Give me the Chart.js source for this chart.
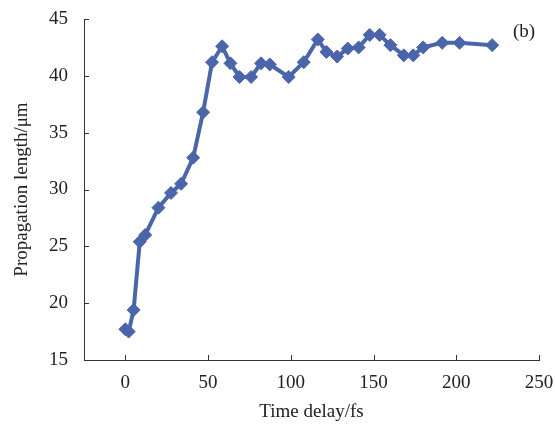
<!DOCTYPE html>
<html>
<head>
<meta charset="utf-8">
<script src="https://cdn.jsdelivr.net/npm/chart.js@4"></script>
<style>
  html, body { margin: 0; padding: 0; background: #fff; }
  #wrap { width: 555px; height: 426px; position: relative; }
</style>
</head>
<body>
<div id="wrap"><canvas id="chartLength"></canvas></div>
<script>
// valores (b)
const timeDelay = [0, 2, 5, 8.7, 12, 20, 27.6, 33.7, 41, 47, 52.4, 58.5, 63.5, 69, 76, 82, 87.3, 98.7, 107.8, 116.3, 121.5, 128, 134.4, 141, 147.7, 153.7, 160.2, 168.3, 174, 180, 191.5, 202, 221.7]
const propagationLength = [17.7, 17.5, 19.4, 25.4, 26, 28.4, 29.7, 30.5, 32.8, 36.8, 41.2, 42.6, 41.1, 39.9, 39.9, 41.1, 41, 39.9, 41.2, 43.2, 42.1, 41.7, 42.4, 42.5, 43.6, 43.6, 42.7, 41.8, 41.8, 42.5, 42.9, 42.9, 42.7]
const xTicks = [0, 50, 100, 150, 200, 250]
const yTicks = [15, 20, 25, 30, 35, 40, 45]

const lineColor = '#4A65AA'
const serif = '"Liberation Serif", "Times New Roman", serif'

// ticks para dentro + rótulo (b)
const innerTicksPlugin = {
  id: 'innerTicks',
  afterDraw: (chart) => {
    const { ctx, chartArea, scales } = chart
    const { left, bottom } = chartArea
    ctx.save()
    ctx.strokeStyle = '#333'
    ctx.lineWidth = 1
    ctx.beginPath()
    xTicks.forEach(v => {
      const px = Math.round(scales.x.getPixelForValue(v)) + 0.5
      ctx.moveTo(px, bottom)
      ctx.lineTo(px, bottom - 5)
    })
    yTicks.forEach(v => {
      const py = Math.round(scales.y.getPixelForValue(v)) + 0.5
      ctx.moveTo(left, py)
      ctx.lineTo(left + 5, py)
    })
    ctx.stroke()

    ctx.fillStyle = '#222'
    ctx.font = '19px ' + serif
    ctx.textAlign = 'left'
    ctx.textBaseline = 'middle'
    ctx.fillText('(b)', chartArea.right - 26, 32)
    ctx.restore()
  }
}

new Chart(document.getElementById('chartLength'), {
  type: 'line',
  data: {
    datasets: [{
      data: timeDelay.map((t, i) => ({ x: t, y: propagationLength[i] })),
      borderColor: lineColor,
      backgroundColor: lineColor,
      borderWidth: 4,
      pointStyle: 'rectRot',
      pointRadius: 6.5,
      pointBorderWidth: 1,
      tension: 0,
      fill: false
    }]
  },
  options: {
    responsive: true,
    maintainAspectRatio: false,
    animation: false,
    layout: { padding: { top: 19, right: 16, left: 0, bottom: 0 } },
    plugins: {
      legend: { display: false },
      tooltip: { enabled: false }
    },
    scales: {
      x: {
        type: 'linear',
        min: -25,
        max: 250,
        afterBuildTicks: (scale) => { scale.ticks = xTicks.map(v => ({ value: v })) },
        afterFit: (scale) => {
          scale.height = 66
          scale.paddingLeft = 0
          scale.paddingRight = 0
        },
        grid: { display: false, drawTicks: false },
        border: { display: true, color: '#333', width: 1 },
        ticks: {
          color: '#222',
          padding: 12,
          maxRotation: 0,
          font: { family: serif, size: 19 }
        },
        title: {
          display: true,
          text: 'Time delay/fs',
          color: '#222',
          padding: { top: 0, bottom: 3 },
          font: { family: serif, size: 19 }
        }
      },
      y: {
        min: 15,
        max: 45,
        afterBuildTicks: (scale) => { scale.ticks = yTicks.map(v => ({ value: v })) },
        afterFit: (scale) => {
          scale.width = 84
          scale.paddingTop = 0
          scale.paddingBottom = 0
        },
        grid: { display: false, drawTicks: false },
        border: { display: true, color: '#333', width: 1 },
        ticks: {
          color: '#222',
          padding: 16,
          font: { family: serif, size: 19 }
        },
        title: {
          display: true,
          text: 'Propagation length/μm',
          color: '#222',
          padding: { top: 11, bottom: 0 },
          font: { family: serif, size: 19 }
        }
      }
    }
  },
  plugins: [innerTicksPlugin]
})
</script>
</body>
</html>
